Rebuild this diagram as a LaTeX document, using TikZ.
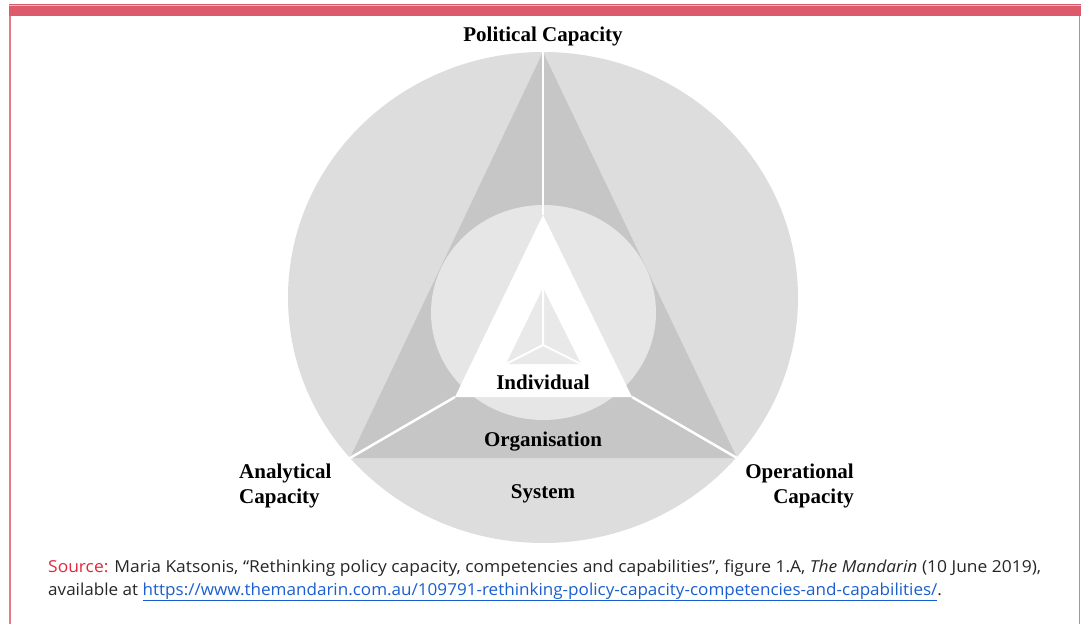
\documentclass[tikz,border=0pt]{standalone}
\usepackage{fontspec}
\setmainfont{Liberation Serif}
\newfontfamily\srcfont{Open Sans}
\definecolor{outerg}{HTML}{DDDDDD}
\definecolor{trig}{HTML}{C6C6C6}
\definecolor{innerg}{HTML}{E6E6E6}
\definecolor{smallg}{HTML}{E9E9E9}
\definecolor{framered}{HTML}{DC5A6B}
\definecolor{frameline}{HTML}{E5788A}
\definecolor{srcred}{HTML}{E0283C}
\definecolor{linkblue}{HTML}{1A5FD0}
\tikzset{
  lbl/.style={font=\fontsize{21}{24}\selectfont\bfseries, inner sep=0pt},
  src/.style={font=\srcfont\fontsize{16.5}{23}\selectfont, inner sep=0pt, anchor=base west, text=black!85},
  divider/.style={draw=white, line width=2.5pt},
}
\begin{document}
\begin{tikzpicture}[x=1pt,y=-1pt]
\useasboundingbox (0,0) rectangle (1081,624);
% frame
\fill[framered] (9,4) rectangle (1081,16);
\draw[white!60!framered, line width=0.8pt] (9,5) -- (1081,5);
\draw[frameline, line width=1.6pt] (10,16) -- (10,624);
\draw[frameline, line width=1.6pt] (1079.5,16) -- (1079.5,624);
% geometry
\coordinate (C) at (543,297.5);
\coordinate (A) at (543,52);
\coordinate (BL) at (350,458);
\coordinate (BR) at (737,458);
\coordinate (IC) at (543.5,312.5);
\coordinate (WA) at (543,215);
\coordinate (WL) at (455,397);
\coordinate (WR) at (632,397);
\coordinate (SA) at (543,288);
\coordinate (SL) at (506,364);
\coordinate (SR) at (581,364);
\coordinate (SC) at (543,345);
% shapes
\fill[outerg] (C) ellipse [x radius=255pt, y radius=245.5pt];
\fill[trig] (A) -- (BL) -- (BR) -- cycle;
\fill[innerg] (IC) ellipse [x radius=112.5pt, y radius=107.5pt];
\fill[white] (WA) -- (WL) -- (WR) -- cycle;
\fill[smallg] (SA) -- (SL) -- (SR) -- cycle;
\draw[divider, line width=2pt] (SC) -- (SA) (SC) -- (SL) (SC) -- (SR);
\draw[divider] (A) -- (WA);
\draw[divider] (WL) -- (BL);
\draw[divider] (WR) -- (BR);
% labels
\node[lbl] (pol) at (543,36) {Political Capacity};
\node[lbl] (ind) at (543,382) {Individual};
\node[lbl] (org) at (543,442) {Organisation};
\node[lbl] (sys) at (543,494) {System};
\node[lbl, align=left, anchor=west, font=\fontsize{21}{25}\selectfont\bfseries] (ana) at (239,485.5) {Analytical\\Capacity};
\node[lbl, align=right, anchor=east, font=\fontsize{21}{25}\selectfont\bfseries] (ope) at (854,485.5) {Operational\\Capacity};
% source
\node[src] (s1) at (48,572) {\scalebox{1.055}[1]{\textcolor{srcred}{Source:} Maria Katsonis, “Rethinking policy capacity, competencies and capabilities”, figure 1.A, \textit{The Mandarin} (10 June 2019),}};
\node[src] (s2) at (48,595) {\scalebox{1.035}[1]{available at \textcolor{linkblue}{\underline{https://www.themandarin.com.au/109791-rethinking-policy-capacity-competencies-and-capabilities/}}.}};
\end{tikzpicture}
\end{document}
